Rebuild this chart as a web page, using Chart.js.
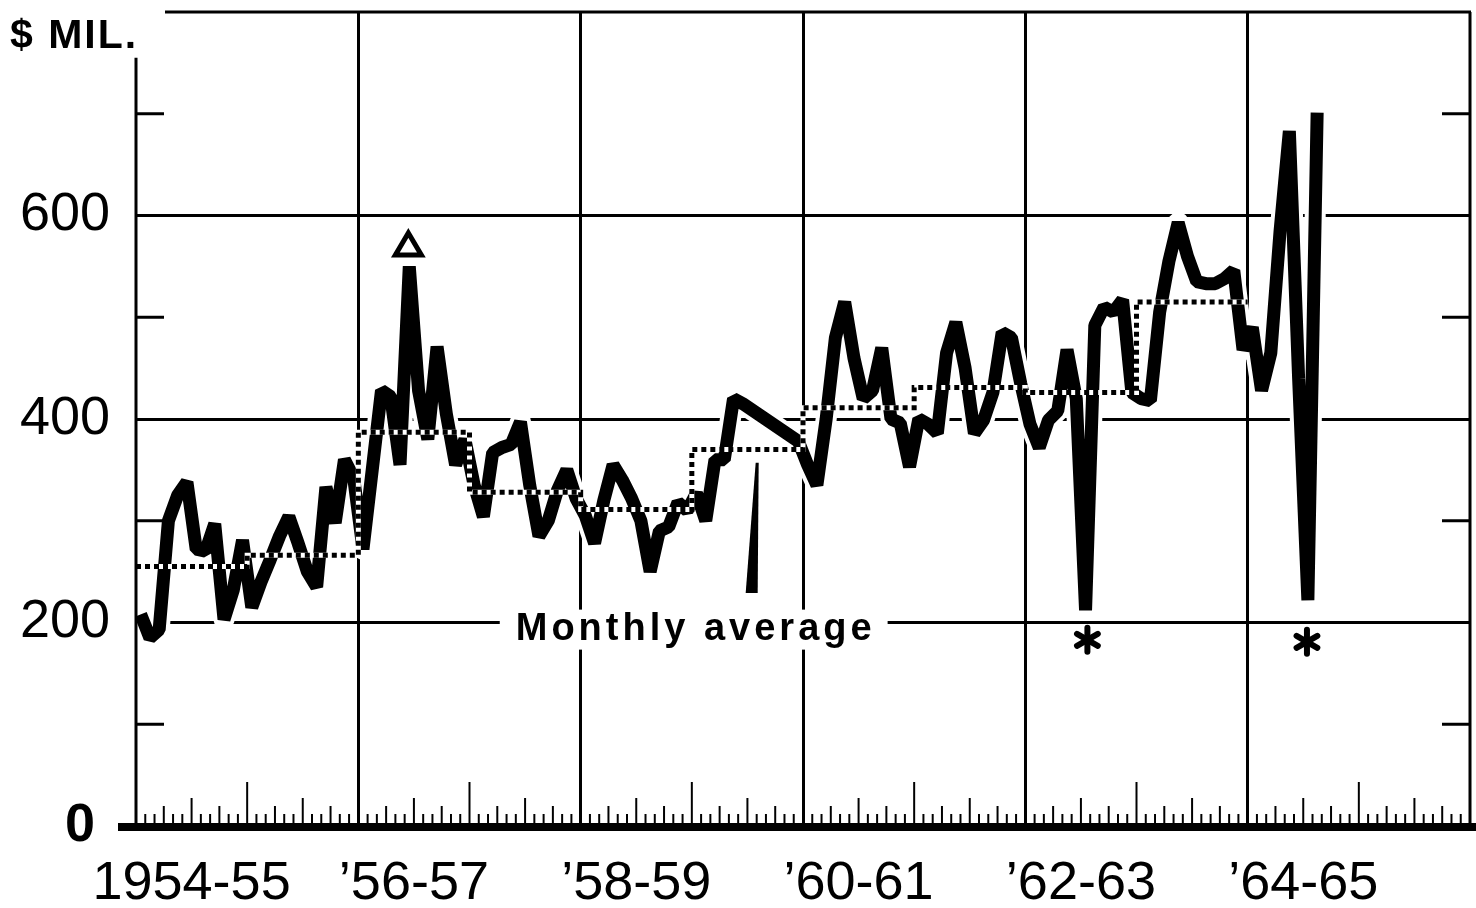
<!DOCTYPE html>
<html>
<head>
<meta charset="utf-8">
<script src="https://cdn.jsdelivr.net/npm/chart.js@4.4.1/dist/chart.umd.min.js"></script>
<style>
  html, body { margin: 0; padding: 0; background: #fff; }
  canvas { display: block; }
</style>
</head>
<body>
<canvas id="chart" width="1476" height="908"></canvas>
<script>
// months counted from July 1954, one fiscal year = 12 months
var axisLabels = ["1954-55", "\u201956-57", "\u201958-59", "\u201960-61", "\u201962-63", "\u201964-65"];
var labelMonths = [6, 30, 54, 78, 102, 126];
var gridMonths = [24, 48, 72, 96, 120];
var yLabels = [0, 200, 400, 600];
var yGrid = [200, 400, 600];
var yMinor = [100, 300, 500, 700];

// monthly values, $ million (null = not plotted, line drawn straight across)
var fy1954 = [208, 185, 193, 300, 325, 338, 272, 270, 297, 203, 232, 281];
var fy1955 = [215, 240, 262, 285, 304, 278, 250, 235, 333, 298, 360, 342];
var fy1956 = [272, 350, 428, 422, 355, 550, 428, 380, 471, 405, 355, 380];
var fy1957 = [335, 304, 367, 372, 375, 397, 335, 285, 300, 330, 350, 322];
var fy1958 = [305, 278, 320, 355, 340, 322, 300, 250, 290, 294, 318, 310];
var fy1959 = [327, 300, 360, 360, 420, 415, null, null, null, null, null, 378];
var fy1960 = [355, 335, 400, 480, 515, 460, 420, 428, 470, 400, 396, 353];
var fy1961 = [400, 395, 386, 465, 495, 450, 386, 399, 426, 485, 480, 435];
var fy1962 = [395, 372, 399, 408, 468, 420, 212, 492, 510, 505, 517, 426];
var fy1963 = [420, 418, 505, 555, 593, 560, 535, 533, 533, 538, 546, 468];
var fy1964 = [490, 428, 465, 585, 683, 440, 222, 701];

// yearly monthly average (dotted steps), 1954-55 .. 1963-64
var yearlyAverage = [255, 266, 387, 328, 311, 370, 411, 431, 426, 515];

// notes on the chart
var noteLabel = { text: "Monthly average", month: 60.2, value: 193 };
var notePointer = { month: 67, top: 357, bottom: 229 };
var noteTriangle = { month: 29.4, value: 572 };
var noteStars = [{ month: 102.7, value: 183 }, { month: 126.4, value: 181 }];

var FONT = '"Liberation Sans", Arial, sans-serif';

var monthly = [].concat(fy1954, fy1955, fy1956, fy1957, fy1958, fy1959, fy1960, fy1961, fy1962, fy1963, fy1964);
var monthlyPoints = monthly.map(function (v, i) { return { x: i + 0.5, y: v }; });
var averagePoints = yearlyAverage.map(function (v, i) { return { x: i * 12, y: v }; });
averagePoints.push({ x: yearlyAverage.length * 12, y: yearlyAverage[yearlyAverage.length - 1] });

function seg(ctx, x1, y1, x2, y2) {
    ctx.beginPath();
    ctx.moveTo(x1, y1);
    ctx.lineTo(x2, y2);
    ctx.stroke();
}

function noPad(s) {
    s.paddingTop = 0;
    s.paddingBottom = 0;
    s.paddingLeft = 0;
    s.paddingRight = 0;
}

var decor = {
    id: 'decor',
    beforeDatasetsDraw: function (chart) {
        var ctx = chart.ctx, a = chart.chartArea, x = chart.scales.x;
        ctx.save();
        ctx.strokeStyle = '#000';
        ctx.lineWidth = 2;
        for (var m = 1; m < 144; m++) {
            var h = m % 12 === 0 ? 44 : m % 6 === 0 ? 28 : m % 3 === 0 ? 20 : 12;
            var px = x.getPixelForValue(m);
            seg(ctx, px, a.bottom, px, a.bottom - h);
        }
        ctx.restore();
    },
    afterDatasetsDraw: function (chart) {
        var ctx = chart.ctx, a = chart.chartArea, x = chart.scales.x, y = chart.scales.y;
        var y0 = y.getPixelForValue(0);
        ctx.save();
        ctx.strokeStyle = '#000';
        ctx.fillStyle = '#000';

        // frame
        ctx.lineWidth = 3;
        seg(ctx, a.left + 29, a.top, a.right + 1, a.top);
        seg(ctx, a.right, a.top, a.right, y0);
        seg(ctx, a.left, y.getPixelForValue(755), a.left, y0);
        yMinor.forEach(function (v) {
            var py = y.getPixelForValue(v);
            seg(ctx, a.left, py, a.left + 28, py);
            seg(ctx, a.right - 28, py, a.right, py);
        });
        // zero line
        ctx.lineWidth = 8;
        seg(ctx, a.left - 18, y0 + 1, chart.width, y0 + 1);

        // "Monthly average" note
        ctx.font = 'bold 38px ' + FONT;
        ctx.letterSpacing = '4px';
        var lx = x.getPixelForValue(noteLabel.month), ly = y.getPixelForValue(noteLabel.value);
        var w = ctx.measureText(noteLabel.text).width;
        ctx.fillStyle = '#fff';
        ctx.fillRect(lx - w / 2 - 14, ly - 20, w + 28, 40);
        ctx.fillStyle = '#000';
        ctx.textAlign = 'center';
        ctx.textBaseline = 'middle';
        ctx.fillText(noteLabel.text, lx + 2, ly);

        // pointer to the dotted line
        var ptx = x.getPixelForValue(notePointer.month);
        var pt = y.getPixelForValue(notePointer.top), pb = y.getPixelForValue(notePointer.bottom);
        ctx.beginPath();
        ctx.moveTo(ptx - 1, pt);
        ctx.lineTo(ptx + 2, pt);
        ctx.lineTo(ptx + 1, pb);
        ctx.lineTo(ptx - 11, pb);
        ctx.closePath();
        ctx.fill();

        // triangle over the 1956-57 peak
        var tx = x.getPixelForValue(noteTriangle.month), ty = y.getPixelForValue(noteTriangle.value);
        ctx.lineWidth = 5;
        ctx.lineJoin = 'miter';
        ctx.beginPath();
        ctx.moveTo(tx, ty - 11);
        ctx.lineTo(tx + 13, ty + 11);
        ctx.lineTo(tx - 13, ty + 11);
        ctx.closePath();
        ctx.fillStyle = '#fff';
        ctx.fill();
        ctx.stroke();
        ctx.fillStyle = '#000';

        // asterisks under the two dips
        ctx.lineWidth = 6;
        ctx.lineCap = 'round';
        noteStars.forEach(function (s) {
            var sx = x.getPixelForValue(s.month), sy = y.getPixelForValue(s.value);
            [90, 30, 150].forEach(function (deg) {
                var r = deg * Math.PI / 180, dx = Math.cos(r) * 12, dy = Math.sin(r) * 12;
                seg(ctx, sx - dx, sy - dy, sx + dx, sy + dy);
            });
        });

        // unit
        ctx.font = 'bold 41px ' + FONT;
        ctx.letterSpacing = '2px';
        ctx.textAlign = 'left';
        ctx.textBaseline = 'alphabetic';
        ctx.fillText('$ MIL.', 10, 48);
        ctx.restore();
    }
};

var ct = document.getElementById('chart');

var grafico = new Chart(ct, {
    type: 'line',
    data: {
        datasets: [{
            label: 'Monthly average',
            data: averagePoints,
            stepped: 'before',
            borderColor: '#000',
            borderWidth: 5,
            borderDash: [5, 4],
            borderCapStyle: 'butt',
            fill: false
        },
        {
            label: 'average gaps',
            data: averagePoints,
            stepped: 'before',
            borderColor: '#fff',
            borderWidth: 5,
            fill: false
        },
        {
            label: 'Monthly',
            data: monthlyPoints,
            spanGaps: true,
            borderColor: '#000',
            borderWidth: 13,
            borderJoinStyle: 'bevel',
            fill: false
        },
        {
            label: 'halo',
            data: monthlyPoints,
            spanGaps: true,
            borderColor: '#fff',
            borderWidth: 21,
            borderJoinStyle: 'round',
            borderCapStyle: 'round',
            fill: false
        }]
    },
    options: {
        responsive: false,
        animation: false,
        events: [],
        layout: { padding: { top: 12, right: 6, left: 0, bottom: 0 } },
        elements: { point: { radius: 0 }, line: { tension: 0 } },
        plugins: { legend: { display: false }, tooltip: { enabled: false } },
        scales: {
            x: {
                type: 'linear',
                min: 0,
                max: 144,
                afterBuildTicks: function (s) {
                    s.ticks = labelMonths.concat(gridMonths).sort(function (p, q) { return p - q; })
                        .map(function (v) { return { value: v }; });
                },
                afterFit: function (s) { s.height = 82; noPad(s); },
                border: { display: false },
                grid: {
                    drawTicks: false,
                    lineWidth: 3,
                    color: function (c) { return c.tick && gridMonths.indexOf(c.tick.value) >= 0 ? '#000' : 'rgba(0,0,0,0)'; }
                },
                ticks: {
                    autoSkip: false,
                    maxRotation: 0,
                    padding: 26,
                    color: '#000',
                    font: { family: FONT, size: 54 },
                    callback: function (v) {
                        var i = labelMonths.indexOf(v);
                        return i < 0 ? '' : axisLabels[i];
                    }
                }
            },
            y: {
                min: 0,
                max: 800,
                afterBuildTicks: function (s) {
                    var t = [];
                    for (var v = 0; v <= 800; v += 100) t.push({ value: v });
                    s.ticks = t;
                },
                afterFit: function (s) { s.width = 136; noPad(s); },
                border: { display: false },
                grid: {
                    drawTicks: false,
                    lineWidth: 3,
                    color: function (c) { return c.tick && yGrid.indexOf(c.tick.value) >= 0 ? '#000' : 'rgba(0,0,0,0)'; }
                },
                ticks: {
                    padding: 26,
                    color: '#000',
                    font: function (c) {
                        return { family: FONT, size: 54, weight: c.tick && c.tick.value === 0 ? 'bold' : 'normal' };
                    },
                    callback: function (v) {
                        if (v === 0) return '0 ';
                        return yLabels.indexOf(v) >= 0 ? String(v) : '';
                    }
                }
            }
        }
    },
    plugins: [decor]
});
</script>
</body>
</html>
